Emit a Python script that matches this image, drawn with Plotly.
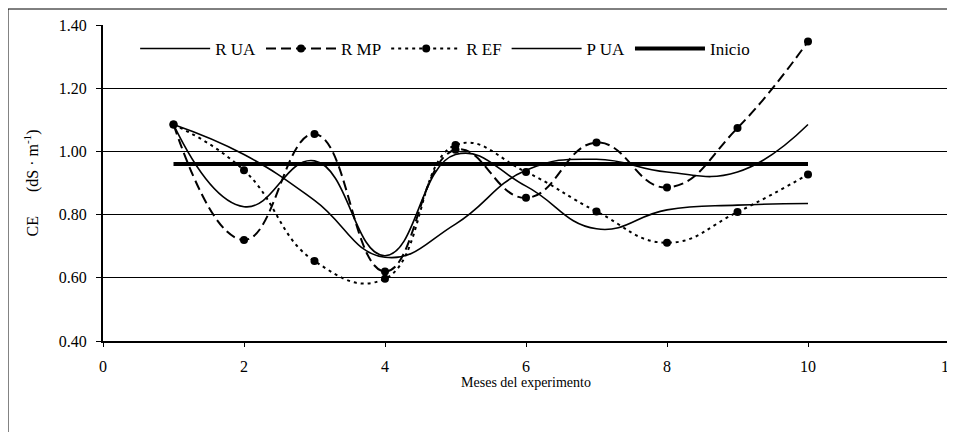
import plotly.graph_objects as go

months = [1, 2, 3, 4, 5, 6, 7, 8, 9, 10]
r_ua = [1.085, 0.825, 0.970, 0.670, 0.990, 0.890, 0.755, 0.815, 0.830, 0.835]
r_mp = [1.085, 0.720, 1.055, 0.620, 1.005, 0.853, 1.028, 0.886, 1.074, 1.348]
r_ef = [1.085, 0.940, 0.653, 0.597, 1.020, 0.935, 0.810, 0.711, 0.808, 0.927]
p_ua = [1.085, 0.990, 0.845, 0.665, 0.770, 0.940, 0.975, 0.935, 0.935, 1.085]
inicio = [0.96, 0.96, 0.96, 0.96, 0.96, 0.96, 0.96, 0.96, 0.96, 0.96]

FONT = "Liberation Serif"
SM = 1.3

fig = go.Figure()
fig.add_trace(go.Scatter(x=months, y=r_ua, name="R UA", mode="lines",
                         line=dict(color="black", width=1.6, shape="spline", smoothing=SM)))
fig.add_trace(go.Scatter(x=months, y=r_mp, name="R MP", mode="lines+markers",
                         line=dict(color="black", width=2, dash="10px,5px", shape="spline", smoothing=SM),
                         marker=dict(color="black", size=8)))
fig.add_trace(go.Scatter(x=months, y=r_ef, name="R EF", mode="lines+markers",
                         line=dict(color="black", width=2, dash="3px,4px", shape="spline", smoothing=SM),
                         marker=dict(color="black", size=8)))
fig.add_trace(go.Scatter(x=months, y=p_ua, name="P UA", mode="lines",
                         line=dict(color="black", width=1.6, shape="spline", smoothing=SM)))
fig.add_trace(go.Scatter(x=months, y=inicio, name="Inicio", mode="lines",
                         line=dict(color="black", width=4)))

# the page body adds an 8px offset, so margins are chosen to place the plot area
# at x 103..949 and y 25..341 in the window
fig.update_layout(
    template="none",
    width=955, height=432,
    margin=dict(l=95, r=14, t=17, b=99, autoexpand=False),
    paper_bgcolor="white", plot_bgcolor="white",
    font=dict(family=FONT, color="black", size=16),
    showlegend=True,
    legend=dict(orientation="h", x=0.038, y=0.924, xanchor="left", yanchor="middle",
                bgcolor="rgba(0,0,0,0)", borderwidth=0, font=dict(size=17, family=FONT),
                itemwidth=70, tracegroupgap=0),
    xaxis=dict(range=[0, 12], dtick=2, tick0=0, showgrid=False, zeroline=False,
               automargin=False,
               showline=True, linecolor="black", linewidth=2,
               ticks="outside", ticklen=4, tickcolor="black", tickwidth=1,
               ticklabeloverflow="allow", ticklabelstandoff=6,
               tickfont=dict(size=16, family=FONT, color="black"),
               title=dict(text="Meses del experimento", font=dict(size=14, family=FONT), standoff=3)),
    yaxis=dict(range=[0.4, 1.4], dtick=0.2, tick0=0.4, tickformat=".2f",
               automargin=False,
               showgrid=True, gridcolor="black", gridwidth=1, zeroline=False,
               showline=True, linecolor="black", linewidth=2,
               ticks="outside", ticklen=5, tickcolor="black", tickwidth=1,
               ticklabelstandoff=6,
               tickfont=dict(size=16, family=FONT, color="black"),
               title=dict(text="CE" + "\u00a0" * 6 + "(dS · m<sup>-1</sup>)",
                          font=dict(size=16, family=FONT), standoff=16)),
    shapes=[
        dict(type="line", xref="paper", yref="paper", x0=1, x1=1, y0=0, y1=1,
             line=dict(color="#333333", width=1.5)),
        dict(type="rect", xref="paper", yref="paper", x0=-0.1123, x1=1.2, y0=-0.5, y1=1.0506,
             line=dict(color="black", width=1)),
    ],
)

fig.write_html("out.html")
